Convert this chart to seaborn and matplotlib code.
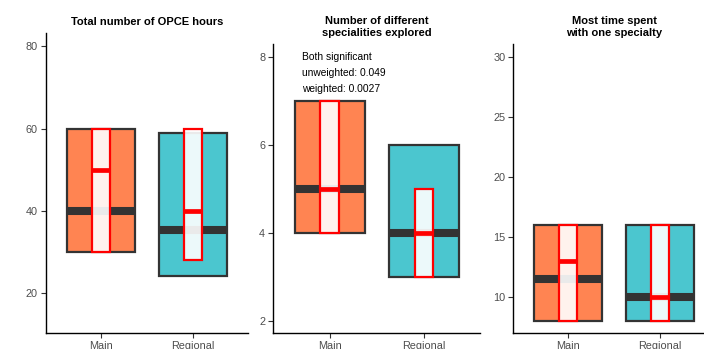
import matplotlib
matplotlib.use("Agg")
import matplotlib.pyplot as plt
import seaborn as sns
import pandas as pd

# Groups
sites = ["Main", "Regional"]
site_colors = ["#FF8452", "#4BC6CF"]

# Unweighted quartiles (Q1, median, Q3) per site
hours_q1 = [30, 24.2]
hours_med = [40, 35.4]
hours_q3 = [60, 58.8]

spec_q1 = [4, 3]
spec_med = [5, 4]
spec_q3 = [7, 6]

most_q1 = [8, 8]
most_med = [11.5, 10]
most_q3 = [16, 16]

# Weighted quartiles (Q1, median, Q3) per site
hours_w_q1 = [30, 28.1]
hours_w_med = [50, 40]
hours_w_q3 = [60, 60]

spec_w_q1 = [4, 3]
spec_w_med = [5, 4]
spec_w_q3 = [7, 5]

most_w_q1 = [8, 8]
most_w_med = [13, 10]
most_w_q3 = [16, 16]

titles = ["Total number of OPCE hours",
          "Number of different\nspecialities explored",
          "Most time spent\nwith one specialty"]
y_ticks = [[20, 40, 60, 80], [2, 4, 6, 8], [10, 15, 20, 25, 30]]
y_limits = [(10.35, 83.2), (1.72, 8.3), (6.97, 31.1)]
note_lines = ["Both significant", "unweighted: 0.049", "weighted: 0.0027"]


def quartile_frame(q1, med, q3):
    # five points per site whose quartiles are exactly q1 / median / q3
    rows = []
    for s, a, m, b in zip(sites, q1, med, q3):
        for v in (a, a, m, b, b):
            rows.append({"site": s, "value": v})
    return pd.DataFrame(rows)


panels = [
    (quartile_frame(hours_q1, hours_med, hours_q3), quartile_frame(hours_w_q1, hours_w_med, hours_w_q3)),
    (quartile_frame(spec_q1, spec_med, spec_q3), quartile_frame(spec_w_q1, spec_w_med, spec_w_q3)),
    (quartile_frame(most_q1, most_med, most_q3), quartile_frame(most_w_q1, most_w_med, most_w_q3)),
]

sns.set_theme(style="ticks")
plt.rcParams["font.family"] = ["Liberation Sans", "DejaVu Sans"]

W, H = 704, 349
fig = plt.figure(figsize=(W / 100, H / 100), dpi=100)

# axes boxes in pixels: left, right, top, bottom
boxes_px = [(46, 247.7, 33, 333), (273.3, 480.4, 44.3, 333), (513.3, 715, 44.3, 333)]

for i, ((df_u, df_w), (l, r, t, b)) in enumerate(zip(panels, boxes_px)):
    ax = fig.add_axes([l / W, 1 - b / H, (r - l) / W, (b - t) / H])

    sns.boxplot(data=df_u, x="site", y="value", hue="site", order=sites,
                hue_order=sites, palette=site_colors, saturation=1,
                width=0.74, legend=False,
                showcaps=False, showfliers=False, whis=0, ax=ax,
                boxprops=dict(edgecolor="#333333", linewidth=1.6),
                whiskerprops=dict(linewidth=0),
                medianprops=dict(color="#333333", linewidth=5.8,
                                 solid_capstyle="butt"))

    n_patches, n_lines = len(ax.patches), len(ax.lines)
    sns.boxplot(data=df_w, x="site", y="value", order=sites, color="white",
                saturation=1, width=0.2, showcaps=False, showfliers=False,
                whis=0, ax=ax,
                boxprops=dict(facecolor=(1, 1, 1, 0.9), edgecolor="red",
                              linewidth=1.6),
                whiskerprops=dict(linewidth=0),
                medianprops=dict(color="red", linewidth=3.4,
                                 solid_capstyle="butt"))
    # weighted boxes sit on top of the unweighted medians
    for p in ax.patches[n_patches:]:
        p.set_zorder(3)
    for ln in ax.lines[n_lines:]:
        ln.set_zorder(4)

    ax.set_xlim(-0.6, 1.6)
    ax.set_ylim(*y_limits[i])
    ax.set_yticks(y_ticks[i])
    ax.set_xlabel("")
    ax.set_ylabel("")
    ax.set_title(titles[i], fontsize=8, fontweight="bold", color="black",
                 pad=6, linespacing=1.3)
    for side in ("top", "right"):
        ax.spines[side].set_visible(False)
    for side in ("left", "bottom"):
        ax.spines[side].set_color("black")
        ax.spines[side].set_linewidth(1.0)
    ax.tick_params(axis="both", colors="#333333", length=3.3, width=0.8,
                   labelsize=7.8, labelcolor="#4D4D4D", pad=2.5)
    ax.grid(False)
    ax.set_facecolor("white")

    if i == 1:
        for k, line in enumerate(note_lines):
            ax.text(-0.3, 8.0 - 0.355 * k, line, fontsize=7.4, color="black",
                    ha="left", va="center")

fig.savefig("out.png", dpi=100, facecolor="white")
